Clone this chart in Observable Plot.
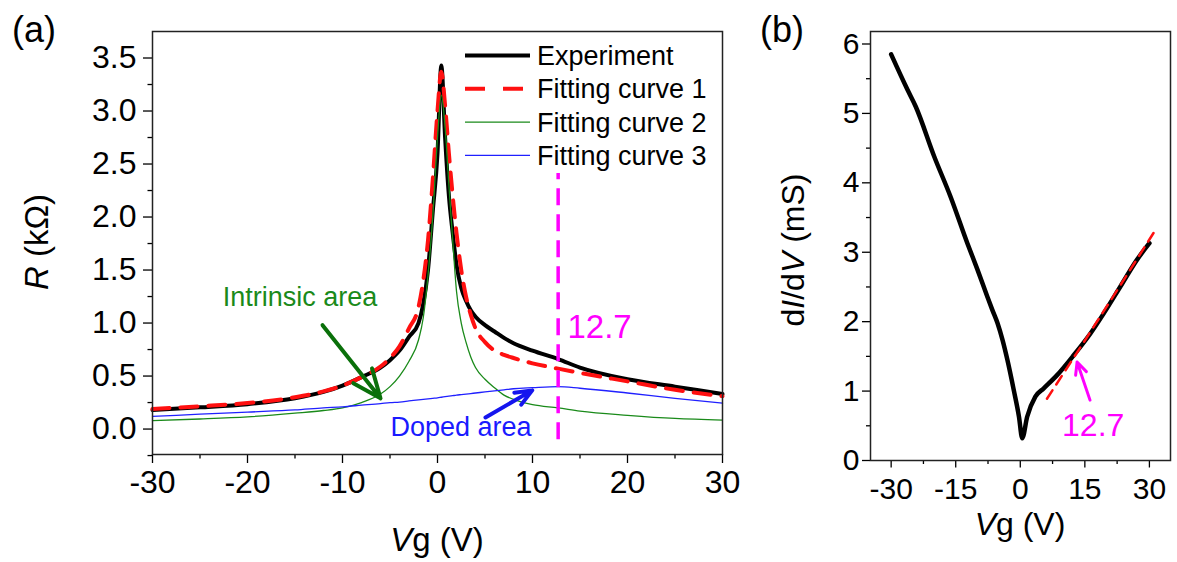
<!DOCTYPE html>
<html>
<head>
<meta charset="utf-8">
<script src="https://cdn.jsdelivr.net/npm/d3@7"></script>
<script src="https://cdn.jsdelivr.net/npm/@observablehq/plot@0.6"></script>
<style>
  html, body { margin: 0; padding: 0; background: #fff; }
  #wrap { position: relative; width: 1177px; height: 562px; overflow: hidden; font-family: "Liberation Sans", Arial, sans-serif; }
  #panelA { position: absolute; left: 0; top: 0; }
  #panelB { position: absolute; left: 760px; top: 0; }
  svg { overflow: visible; }
</style>
</head>
<body>
<div id="wrap"><div id="panelA"></div><div id="panelB"></div></div>
<script>
// ---------- Panel (a) data ----------
const vgA = [-30,-25,-20,-15,-12,-10,-8,-6,-5,-4,-3,-2,-1.5,-1,-0.5,0,0.4,0.8,1.2,1.6,2,2.5,3,3.5,4,5,6,7,8,10,12.7,15,20,25,30];
const rExperiment = [0.18,0.205,0.235,0.29,0.35,0.41,0.49,0.58,0.65,0.74,0.87,1.0,1.18,1.5,2.05,2.6,3.43,2.75,2.2,1.85,1.55,1.33,1.21,1.12,1.06,0.98,0.92,0.86,0.81,0.74,0.66,0.58,0.47,0.40,0.33];
const rFit1 = [0.19,0.215,0.245,0.30,0.355,0.41,0.49,0.59,0.67,0.78,0.95,1.15,1.4,1.78,2.35,3.0,3.37,3.05,2.6,2.2,1.85,1.5,1.25,1.08,0.95,0.82,0.74,0.70,0.67,0.62,0.57,0.53,0.45,0.37,0.31];
const rFit2 = [0.08,0.095,0.115,0.15,0.175,0.20,0.25,0.33,0.40,0.50,0.64,0.84,1.05,1.45,2.0,2.75,3.15,2.85,2.3,1.78,1.3,1.0,0.82,0.68,0.58,0.47,0.39,0.32,0.28,0.23,0.20,0.17,0.13,0.10,0.085];
const rFit3 = [0.12,0.14,0.16,0.18,0.20,0.21,0.225,0.24,0.25,0.255,0.265,0.275,0.28,0.285,0.29,0.295,0.30,0.305,0.31,0.315,0.32,0.325,0.33,0.335,0.34,0.35,0.36,0.37,0.38,0.39,0.40,0.385,0.34,0.29,0.245];
const legendLabelsA = ["Experiment","Fitting curve 1","Fitting curve 2","Fitting curve 3"];
const xTicksA = [-30,-20,-10,0,10,20,30];
const xMinorA = [-25,-15,-5,5,15,25];
const yTicksA = [0,0.5,1,1.5,2,2.5,3,3.5];
const yMinorA = [-0.25,0.25,0.75,1.25,1.75,2.25,2.75,3.25,3.75].filter(v => v <= 3.7);
const markerVg = 12.7;
const markerSpanA = [-0.1, 2.41];
const arrowsA = [
  {name:"intrinsic", x1:-12.1, y1:0.98, x2:-6.0, y2:0.29},
  {name:"doped", x1:5.05, y1:0.11, x2:9.97, y2:0.365}
];
const textsA = [
  {label:"Intrinsic area", vg:-22.6, r:1.24},
  {label:"Doped area", vg:-4.95, r:0.02},
  {label:"12.7", vg:13.68, r:0.955}
];

// ---------- Panel (b) data ----------
const vgB = [-30,-26.2,-24.3,-20.0,-16.2,-12.3,-9.95,-7.65,-6.5,-5.3,-4.1,-3.0,-1.5,-0.3,0.45,1.6,3.5,5.45,8.55,12.45,16.3,19.4,23.3,27.1,30];
const dIdV = [5.85,5.34,5.10,4.38,3.80,3.13,2.75,2.36,2.17,1.98,1.73,1.45,1.01,0.63,0.32,0.63,0.92,1.04,1.23,1.52,1.83,2.12,2.51,2.89,3.13];
const vgBFit = [6.2,14.7,23.0,31.8];
const dIdVFit = [0.89,1.70,2.50,3.36];
const xTicksB = [-30,-15,0,15,30];
const xMinorB = [-22.5,-7.5,7.5,22.5];
const yTicksB = [0,1,2,3,4,5,6];
const yMinorB = [0.5,1.5,2.5,3.5,4.5,5.5];
const arrowsB = [{x1:16.2, y1:0.87, x2:13.2, y2:1.42}];
const textsB = [{label:"12.7", vg:9.7, v:0.50}];

const FONT = "Liberation Sans, Arial, sans-serif";
const fmt = d => String(d);

// ---------- Panel (a) ----------
const chartA = Plot.plot({
  width: 760, height: 562,
  marginLeft: 152, marginRight: 38, marginTop: 31, marginBottom: 108,
  style: {fontFamily: FONT, fontSize: "32px", background: "transparent", color: "black"},
  x: {domain: [-30, 30], axis: null},
  y: {domain: [-0.24, 3.75], axis: null},
  marks: [
    Plot.axisX({ticks: xTicksA, tickSize: 9, tickPadding: 7, tickFormat: fmt, fontSize: 32, label: null, strokeWidth: 1.3}),
    Plot.axisX({ticks: xMinorA, tickSize: 4.5, tickFormat: () => "", label: null, strokeWidth: 1.3}),
    Plot.axisY({ticks: yTicksA, tickSize: 9, tickPadding: 7, tickFormat: d => d.toFixed(1), fontSize: 32, label: null, strokeWidth: 1.3}),
    Plot.axisY({ticks: yMinorA, tickSize: 4.5, tickFormat: () => "", label: null, strokeWidth: 1.3}),
    Plot.line(vgA, {x: vgA, y: rExperiment, stroke: "black", strokeWidth: 4, curve: "monotone-x"}),
    Plot.line(vgA, {x: vgA, y: rFit1, stroke: "#ff1010", strokeWidth: 4, strokeDasharray: "17,11", curve: "monotone-x"}),
    Plot.line(vgA, {x: vgA, y: rFit2, stroke: "#1a8a1a", strokeWidth: 1.3, curve: "monotone-x"}),
    Plot.line(vgA, {x: vgA, y: rFit3, stroke: "#2020ff", strokeWidth: 1.3, curve: "monotone-x"}),
    Plot.ruleX([markerVg], {y1: markerSpanA[0], y2: markerSpanA[1], stroke: "#ff00ff", strokeWidth: 3.5, strokeDasharray: "17,9"}),
    Plot.arrow(arrowsA.filter(d => d.name === "intrinsic"), {x1: "x1", y1: "y1", x2: "x2", y2: "y2", stroke: "#0a700a", strokeWidth: 4, headLength: 16, headAngle: 45}),
    Plot.arrow(arrowsA.filter(d => d.name === "doped"), {x1: "x1", y1: "y1", x2: "x2", y2: "y2", stroke: "#1515ee", strokeWidth: 4, headLength: 16, headAngle: 45}),
    Plot.text([textsA[0]], {x: "vg", y: "r", text: "label", textAnchor: "start", fill: "#1a8a1a", fontSize: 27}),
    Plot.text([textsA[1]], {x: "vg", y: "r", text: "label", textAnchor: "start", fill: "#1a1aff", fontSize: 27}),
    Plot.text([textsA[2]], {x: "vg", y: "r", text: "label", textAnchor: "start", fill: "#ff00ff", fontSize: 33}),
    Plot.frame({stroke: "#222", strokeWidth: 1.5})
  ]
});
document.getElementById("panelA").appendChild(chartA);

// ---------- Panel (b) ----------
const chartB = Plot.plot({
  width: 417, height: 562,
  marginLeft: 110, marginRight: 7, marginTop: 31, marginBottom: 102,
  style: {fontFamily: FONT, fontSize: "30px", background: "transparent", color: "black"},
  x: {domain: [-34.8, 34.9], axis: null},
  y: {domain: [0, 6.18], axis: null},
  marks: [
    Plot.axisX({ticks: xTicksB, tickSize: 7.5, tickPadding: 10, tickFormat: fmt, fontSize: 30, label: null, strokeWidth: 1.3}),
    Plot.axisX({ticks: xMinorB, tickSize: 4, tickFormat: () => "", label: null, strokeWidth: 1.3}),
    Plot.axisY({ticks: yTicksB, tickSize: 8, tickPadding: 3, tickFormat: fmt, fontSize: 30, label: null, strokeWidth: 1.3}),
    Plot.axisY({ticks: yMinorB, tickSize: 4, tickFormat: () => "", label: null, strokeWidth: 1.3}),
    Plot.line(vgB, {x: vgB, y: dIdV, stroke: "black", strokeWidth: 4.5, curve: "monotone-x"}),
    Plot.line(vgBFit, {x: vgBFit, y: dIdVFit, stroke: "#ff1010", strokeWidth: 2.5, strokeDasharray: "10,7"}),
    Plot.arrow(arrowsB, {x1: "x1", y1: "y1", x2: "x2", y2: "y2", stroke: "#ff00ff", strokeWidth: 3, headLength: 13, headAngle: 50}),
    Plot.text(textsB, {x: "vg", y: "v", text: "label", textAnchor: "start", fill: "#ff00ff", fontSize: 32}),
    Plot.frame({stroke: "#222", strokeWidth: 1.5})
  ]
});
document.getElementById("panelB").appendChild(chartB);

// ---------- Titles, axis labels, legend ----------
const sa = d3.select(chartA);
sa.append("text").attr("x", 12).attr("y", 42).attr("text-anchor", "start").attr("font-size", 36).attr("font-family", FONT).text("(a)");
sa.append("text").attr("transform", "translate(48,242) rotate(-90)").attr("text-anchor", "middle")
  .attr("font-size", 33).attr("font-family", FONT)
  .call(t => { t.append("tspan").attr("font-style", "italic").text("R"); t.append("tspan").text(" (kΩ)"); });
sa.append("text").attr("x", 437).attr("y", 551).attr("text-anchor", "middle")
  .attr("font-size", 33).attr("font-family", FONT)
  .call(t => { t.append("tspan").attr("font-style", "italic").text("V"); t.append("tspan").text("g (V)"); });

const legendStyles = [
  {stroke: "black", width: 4, dash: null},
  {stroke: "#ff1010", width: 4, dash: "20,18"},
  {stroke: "#1a8a1a", width: 1.3, dash: null},
  {stroke: "#2020ff", width: 1.3, dash: null}
];
legendLabelsA.forEach((lab, i) => {
  const base = 65 + i * 33.3;
  const st = legendStyles[i];
  const ln = sa.append("line").attr("x1", 465).attr("x2", 530).attr("y1", base - 9.5).attr("y2", base - 9.5)
    .attr("stroke", st.stroke).attr("stroke-width", st.width);
  if (st.dash) ln.attr("stroke-dasharray", st.dash);
  sa.append("text").attr("x", 537).attr("y", base).attr("text-anchor", "start").attr("font-size", 27).attr("font-family", FONT).text(lab);
});

const sb = d3.select(chartB);
sb.append("text").attr("x", 0).attr("y", 42).attr("text-anchor", "start").attr("font-size", 36).attr("font-family", FONT).text("(b)");
sb.append("text").attr("transform", "translate(44,250) rotate(-90)").attr("text-anchor", "middle")
  .attr("font-size", 32).attr("font-family", FONT)
  .call(t => {
    t.append("tspan").text("d");
    t.append("tspan").attr("font-style", "italic").text("I");
    t.append("tspan").text("/d");
    t.append("tspan").attr("font-style", "italic").text("V");
    t.append("tspan").text(" (mS)");
  });
sb.append("text").attr("x", 260).attr("y", 535).attr("text-anchor", "middle")
  .attr("font-size", 32).attr("font-family", FONT)
  .call(t => { t.append("tspan").attr("font-style", "italic").text("V"); t.append("tspan").text("g (V)"); });
</script>
</body>
</html>
